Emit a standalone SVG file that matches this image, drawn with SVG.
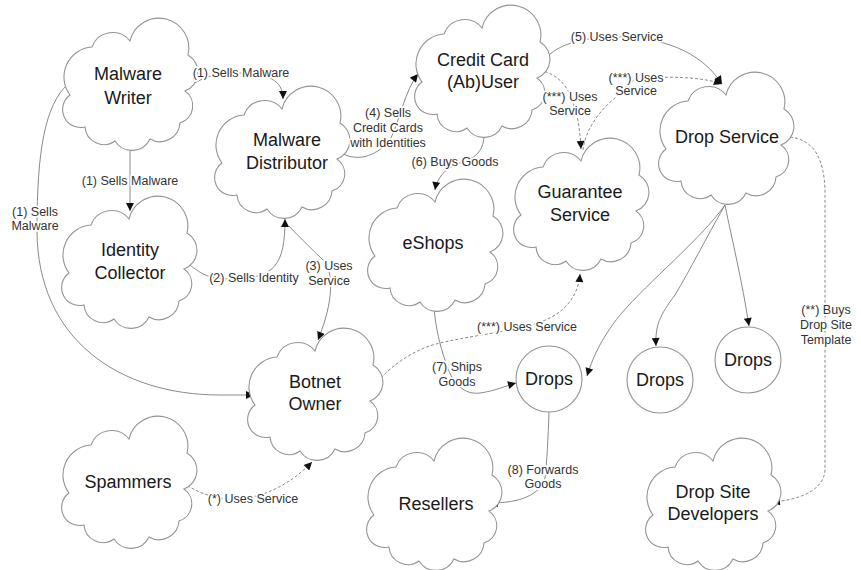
<svg xmlns="http://www.w3.org/2000/svg" xmlns:xlink="http://www.w3.org/1999/xlink" width="861" height="570" viewBox="0 0 861 570">
<style>
.cl{fill:#fff;stroke:#949494;stroke-width:1.1}
.nt{font-family:"Liberation Sans",Arial,sans-serif;font-size:18px;fill:#1a1a1a;text-anchor:middle}
.e{fill:none;stroke:#8a8a8a;stroke-width:1}
.d{stroke-dasharray:3 2}
.lb{font-family:"Liberation Sans",Arial,sans-serif;font-size:12.5px;fill:#333;text-anchor:middle;stroke:#fff;stroke-width:3.5;paint-order:stroke;stroke-linejoin:round}
</style>
<defs>
<path id="cloud" d="M -60 12 A 30 30 0 0 1 -38 -36 A 22 22 0 0 1 0 -42 A 1 1 0 0 1 58 -28 A 20 20 0 0 1 55 8 A 18 18 0 0 1 50 40 A 20 20 0 0 1 20 56 A 20 20 0 0 1 -15 58 A 19 19 0 0 1 -45 44 A 18 18 0 0 1 -60 12 Z"/>
<marker id="arr" viewBox="0 0 10 10" refX="10" refY="5" markerWidth="9" markerHeight="8" markerUnits="userSpaceOnUse" orient="auto"><path d="M0,0 L10,5 L0,10 z" fill="#111"/></marker>
</defs>
<rect width="861" height="570" fill="#fff"/>

<g id="connectors">
<path class="e" marker-end="url(#arr)" d="M 185 86 C 200 84, 200 73, 240 73 C 275 73, 283 85, 283 99"/>
<path class="e" marker-end="url(#arr)" d="M 130 150 L 130 211"/>
<path class="e" marker-end="url(#arr)" d="M 68 84 C 45 105, 37 150, 37 230 C 37 340, 120 395, 220 395 L 254 395"/>
<path class="e" marker-end="url(#arr)" d="M 187 263 C 200 272, 205 279, 230 279 C 275 279, 285 265, 285 219"/>
<path class="e" marker-end="url(#arr)" d="M 289 226 C 300 238, 315 252, 325 262 C 333 275, 334 300, 318 340"/>
<path class="e" marker-end="url(#arr)" d="M 340 152 C 355 162, 375 158, 390 140 C 400 120, 405 90, 418 74"/>
<path class="e" marker-end="url(#arr)" d="M 541 63 C 555 45, 580 37, 617 37 C 660 37, 700 50, 722 84"/>
<path class="e d" marker-end="url(#arr)" d="M 540 70 C 560 75, 568 88, 572 100 C 578 115, 580 130, 581 149"/>
<path class="e d" marker-end="url(#arr)" d="M 583 150 C 585 130, 600 110, 615 98 C 625 88, 630 80, 640 78 C 680 76, 705 78, 722 84"/>
<path class="e" marker-end="url(#arr)" d="M 484 135 C 484 148, 478 158, 460 163 C 445 168, 437 178, 435 190"/>
<path class="e d" marker-end="url(#arr)" d="M 368 393 C 385 370, 410 350, 440 343 C 470 336, 500 333, 530 325 C 560 318, 578 300, 580 274"/>
<path class="e" marker-end="url(#arr)" d="M 434 308 C 436 330, 440 345, 445 360 C 452 385, 465 395, 480 393 C 495 391, 505 386, 516 383"/>
<path class="e" marker-end="url(#arr)" d="M 549 412 C 548 440, 547 460, 545 478 C 540 495, 520 503, 490 503"/>
<path class="e" marker-end="url(#arr)" d="M 725 205 C 700 240, 650 280, 620 315 C 600 340, 592 360, 587 376"/>
<path class="e" marker-end="url(#arr)" d="M 725 205 C 705 240, 690 270, 675 295 C 660 315, 655 325, 656 346"/>
<path class="e" marker-end="url(#arr)" d="M 725 205 C 732 240, 742 280, 749 326"/>
<path class="e d" marker-end="url(#arr)" d="M 790 137 C 815 140, 824 160, 825 190 L 825 470 C 824 490, 800 500, 772 502"/>
<path class="e d" marker-end="url(#arr)" d="M 183 483 C 195 490, 205 497, 230 499 C 260 500, 290 485, 312 462"/>
</g>

<g id="malware-writer"><use href="#cloud" class="cl" x="130" y="83"/><text class="nt" x="128" y="80">Malware</text><text class="nt" x="128" y="104">Writer</text></g>
<g id="malware-distributor"><use href="#cloud" class="cl" x="282" y="151"/><text class="nt" x="287" y="146">Malware</text><text class="nt" x="287" y="169">Distributor</text></g>
<g id="identity-collector"><use href="#cloud" class="cl" x="129" y="261"/><text class="nt" x="130" y="256">Identity</text><text class="nt" x="130" y="279">Collector</text></g>
<g id="credit-card-user"><use href="#cloud" class="cl" x="482" y="70"/><text class="nt" x="483" y="66">Credit Card</text><text class="nt" x="483" y="88">(Ab)User</text></g>
<g id="drop-service"><use href="#cloud" class="cl" x="726" y="137"/><text class="nt" x="727" y="143">Drop Service</text></g>
<g id="guarantee-service"><use href="#cloud" class="cl" x="581" y="203"/><text class="nt" x="580" y="198">Guarantee</text><text class="nt" x="580" y="221">Service</text></g>
<g id="eshops"><use href="#cloud" class="cl" x="435" y="244"/><text class="nt" x="433" y="249">eShops</text></g>
<g id="botnet-owner"><use href="#cloud" class="cl" x="315" y="393"/><text class="nt" x="315" y="388">Botnet</text><text class="nt" x="315" y="410">Owner</text></g>
<g id="spammers"><use href="#cloud" class="cl" x="129" y="481"/><text class="nt" x="128" y="488">Spammers</text></g>
<g id="resellers"><use href="#cloud" class="cl" x="434" y="503"/><text class="nt" x="436" y="510">Resellers</text></g>
<g id="drop-site-developers"><use href="#cloud" class="cl" x="713" y="503"/><text class="nt" x="713" y="498">Drop Site</text><text class="nt" x="713" y="520">Developers</text></g>
<g id="drops-1"><circle class="cl" cx="549" cy="379" r="33"/><text class="nt" x="549" y="385">Drops</text></g>
<g id="drops-2"><circle class="cl" cx="660" cy="380" r="33"/><text class="nt" x="660" y="386">Drops</text></g>
<g id="drops-3"><circle class="cl" cx="748" cy="360" r="33"/><text class="nt" x="748" y="366">Drops</text></g>

<g id="connector-labels">
<text class="lb" x="241" y="77">(1) Sells Malware</text>
<text class="lb" x="130" y="185">(1) Sells Malware</text>
<text class="lb" x="35" y="216">(1) Sells</text>
<text class="lb" x="35" y="230">Malware</text>
<text class="lb" x="254" y="282">(2) Sells Identity</text>
<text class="lb" x="329" y="270">(3) Uses</text>
<text class="lb" x="329" y="285">Service</text>
<text class="lb" x="388" y="117">(4) Sells</text>
<text class="lb" x="388" y="132">Credit Cards</text>
<text class="lb" x="388" y="147">with Identities</text>
<text class="lb" x="617" y="41">(5) Uses Service</text>
<text class="lb" x="570" y="101">(***) Uses</text>
<text class="lb" x="570" y="115">Service</text>
<text class="lb" x="636" y="82">(***) Uses</text>
<text class="lb" x="636" y="95">Service</text>
<text class="lb" x="455" y="166">(6) Buys Goods</text>
<text class="lb" x="527" y="331">(***) Uses Service</text>
<text class="lb" x="457" y="371">(7) Ships</text>
<text class="lb" x="457" y="386">Goods</text>
<text class="lb" x="543" y="474">(8) Forwards</text>
<text class="lb" x="543" y="488">Goods</text>
<text class="lb" x="826" y="314">(**) Buys</text>
<text class="lb" x="826" y="329">Drop Site</text>
<text class="lb" x="826" y="344">Template</text>
<text class="lb" x="253" y="503">(*) Uses Service</text>
</g>
</svg>
